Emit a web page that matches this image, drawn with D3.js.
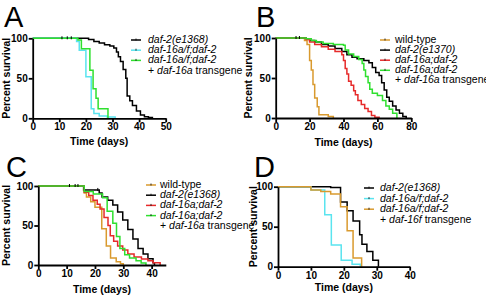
<!DOCTYPE html>
<html>
<head>
<meta charset="utf-8">
<style>
  body { margin: 0; background: #fff; }
  svg { font-family: "Liberation Sans", Arial, sans-serif; }
  .axis path, .axis line { stroke: #000; stroke-width: 1.8px; fill: none; }
  .axis text { font-size: 10px; font-weight: bold; fill: #000; }
  .atitle { font-size: 10.5px; font-weight: bold; }
  .legend text { font-size: 10.5px; }
  .km { fill: none; stroke-width: 1.5px; }
  .letter { font-size: 29px; }
</style>
<script src="https://d3js.org/d3.v7.min.js"></script>
</head>
<body>
<div id="chart"></div>
<script>
// survival curves: [day, percent survival after that day]
var aDaf2 = [[0,100],[21,98.5],[23,96],[25,94],[27,92],[29,90.5],[30.5,88],[31.5,83],[32.2,77],[33,71],[34,61],[35,50],[35.5,28],[36.5,22],[37.5,16],[39,9],[40.5,4],[42,2],[43.5,1],[45,0]];
var aDaf16af = [[0,100],[16.5,96],[17.5,85],[20,52],[22,12],[23,6],[25,3],[28,1.5],[31,0]];
var aRescue = [[0,100],[17,98],[18.3,87],[21.5,60],[22.7,37],[23.8,25],[24.6,12],[28.3,0]];

var bWild = [[0,100],[17,97],[18.5,92],[20,72],[21,60],[22,42],[23,25],[24.5,14],[25.5,4],[31,2],[34,0]];
var bDaf2 = [[0,100],[18,99],[20,97],[23,95],[27,92],[31,90],[35,87],[39,83],[42,79],[45,76],[48,74],[52,72],[55,69],[57,63],[59,57],[61,53],[62.5,44],[64,35],[65.5,26],[67,21],[69,15],[71,10],[73,6],[75,2],[77,0]];
var bDaf16a = [[0,100],[18,98],[20,95],[23,92],[27,89],[31,86],[35,83],[39,79],[40,72],[41,62],[42,55],[43,46],[44.5,41],[46,34],[47,29],[48.5,22],[50.5,17],[52.5,12],[54.5,8],[56.5,3],[58.5,1],[61,0]];
var bRescue = [[0,100],[18,99],[21,97],[24,95],[28,93],[34,92],[40,91],[41,85],[43,80],[46,77],[49,73],[51,68],[52,60],[53,52],[54.5,44],[55.5,36],[57,31],[60,28],[63,22],[65,15],[67,11],[69,6],[71.5,0]];

var cWild = [[0,100],[16.2,91],[17,86],[18.5,80],[20,73],[22.4,46],[24,24],[25.5,9],[27.5,4],[29,1.5],[30,0]];
var cDaf2 = [[0,100],[16,95],[21.5,91],[22.5,86],[24.5,82],[26.3,76],[28,67],[29.8,57],[31.6,45],[33.4,33],[35.2,21],[37,14],[38.7,8],[40.5,3],[41,0]];
var cDaf16a = [[0,100],[16.2,92],[17.8,88],[19.3,82],[20.8,77],[21.8,71],[23.2,60],[24.6,50],[25.4,37],[26.6,30],[28,24],[29.8,19],[31.6,14],[33.8,10],[36.4,7.5],[38.7,5.5],[40.5,3],[43,0]];
var cRescue = [[0,100],[16.2,93],[19.4,90],[22.7,85],[24.3,68],[26.3,53],[27.6,36],[28.8,21],[30.5,13],[32.2,9],[34.5,5.5],[36.3,2.5],[38,0]];

var dDaf2 = [[0,100],[16,99],[19,81],[21,70],[22.8,57],[24.8,40],[25.5,28],[27,19],[28.8,8],[30.5,0]];
var dDaf16af = [[0,100],[10,96],[14.2,65],[16.2,27],[19.2,8],[22.5,3],[25,0]];
var dRescue = [[0,100],[10,96],[13,94],[16,91],[19,75],[21,45],[22.8,11],[25.4,0]];

// censored marks [day, percent]
var aCensor = [[11,100],[13,100],[14.5,100]];
var bCensor = [[12,100],[14,100]];
var cCensor = [[11,100],[13,100],[14,100],[21,95]];

var xTicksA = [0,10,20,30,40,50];
var xTicksB = [0,20,40,60,80];
var xTicksC = [0,10,20,30,40];
var xTicksD = [0,10,20,30,40];
var yTicks = [0,50,100];

var BLACK = "#000", CYAN = "#5ae4ef", GREEN = "#2fe02f", RED = "#e62a2a", ORANGE = "#d99a2e";

var panels = [
  { letter: "A", lx: 4, ly: 27, x0: 32.7, x1: 165.7, xmax: 50, xt: xTicksA, y0: 118.3, y1: 38.3,
    ylab: 7, xlab: 142,
    series: [[aDaf2, BLACK], [aDaf16af, CYAN], [aRescue, GREEN]], censor: aCensor,
    leg: { x: 131, tx: 148, y: 40, dy: 10.2,
      items: [[BLACK, [["daf-2(e1368)", 1]]], [CYAN, [["daf-16a/f;daf-2", 1]]], [GREEN, [["daf-16a/f;daf-2", 1]]],
              [null, [["+ ", 0], ["daf-16a", 1], [" transgene", 0]]]] } },
  { letter: "B", lx: 256, ly: 27, x0: 275.7, x1: 411.3, xmax: 80, xt: xTicksB, y0: 118, y1: 38,
    ylab: 249, xlab: 143,
    series: [[bWild, ORANGE], [bDaf2, BLACK], [bDaf16a, RED], [bRescue, GREEN]], censor: bCensor,
    leg: { x: 380, tx: 395, y: 40, dy: 10.1,
      items: [[ORANGE, [["wild-type", 0]]], [BLACK, [["daf-2(e1370)", 1]]], [RED, [["daf-16a;daf-2", 1]]],
              [GREEN, [["daf-16a;daf-2", 1]]], [null, [["+ ", 0], ["daf-16a", 1], [" transgene", 0]]]] } },
  { letter: "C", lx: 6, ly: 177, x0: 38.3, x1: 165.8, xmax: 45, xt: xTicksC, y0: 265, y1: 186,
    ylab: 7, xlab: 290,
    series: [[cWild, ORANGE], [cDaf2, BLACK], [cDaf16a, RED], [cRescue, GREEN]], censor: cCensor,
    leg: { x: 146, tx: 160, y: 185, dy: 10.2,
      items: [[ORANGE, [["wild-type", 0]]], [BLACK, [["daf-2(e1368)", 1]]], [RED, [["daf-16a;daf-2", 1]]],
              [GREEN, [["daf-16a;daf-2", 1]]], [null, [["+ ", 0], ["daf-16a", 1], [" transgene", 0]]]] } },
  { letter: "D", lx: 254, ly: 177, x0: 278, x1: 409.7, xmax: 40, xt: xTicksD, y0: 266.7, y1: 186.7,
    ylab: 254, xlab: 288,
    series: [[dDaf2, BLACK], [dDaf16af, CYAN], [dRescue, ORANGE]], censor: [],
    leg: { x: 364, tx: 380, y: 188, dy: 10.6,
      items: [[BLACK, [["daf-2(e1368)", 1]]], [CYAN, [["daf-16a/f;daf-2", 1]]], [ORANGE, [["daf-16a/f;daf-2", 1]]],
              [null, [["+ ", 0], ["daf-16f", 1], [" transgene", 0]]]] } }
];

var svg = d3.select("#chart").append("svg").attr("width", 486).attr("height", 303);

panels.forEach(function (p) {
  var x = d3.scaleLinear().domain([0, p.xmax]).range([p.x0, p.x1]);
  var y = d3.scaleLinear().domain([0, 100]).range([p.y0, p.y1]);
  var g = svg.append("g");

  g.append("text").attr("class", "letter").attr("x", p.lx).attr("y", p.ly).text(p.letter);

  var line = d3.line().curve(d3.curveStepAfter)
    .x(function (d) { return x(d[0]); })
    .y(function (d) { return y(d[1]); });

  p.series.forEach(function (s) {
    g.append("path").attr("class", "km").attr("d", line(s[0])).attr("stroke", s[1]);
  });

  g.selectAll(".cens").data(p.censor).enter().append("line")
    .attr("x1", function (d) { return x(d[0]); }).attr("x2", function (d) { return x(d[0]); })
    .attr("y1", function (d) { return y(d[1]) - 2; }).attr("y2", function (d) { return y(d[1]) + 1; })
    .attr("stroke", "#000").attr("stroke-width", 1);

  g.append("g").attr("class", "axis")
    .attr("transform", "translate(0," + p.y0 + ")")
    .call(d3.axisBottom(x).tickValues(p.xt).tickSize(4).tickSizeOuter(0).tickPadding(1));

  g.append("g").attr("class", "axis")
    .attr("transform", "translate(" + p.x0 + ",0)")
    .call(d3.axisLeft(y).tickValues(yTicks).tickSize(4).tickSizeOuter(0).tickPadding(1));

  g.append("text").attr("class", "atitle")
    .attr("x", (p.x0 + p.x1) / 2).attr("y", p.xlab).attr("text-anchor", "middle")
    .attr("dominant-baseline", "middle").text("Time (days)");

  g.append("text").attr("class", "atitle")
    .attr("transform", "translate(" + p.ylab + "," + (p.y0 + p.y1) / 2 + ") rotate(-90)")
    .attr("text-anchor", "middle").attr("dominant-baseline", "middle").text("Percent survival");

  var lg = g.append("g").attr("class", "legend");
  p.leg.items.forEach(function (it, i) {
    var yy = p.leg.y + i * p.leg.dy;
    if (it[0]) {
      lg.append("line").attr("x1", p.leg.x).attr("x2", p.leg.x + 10).attr("y1", yy).attr("y2", yy)
        .attr("stroke", it[0]).attr("stroke-width", 1.5);
      lg.append("line").attr("x1", p.leg.x + 5).attr("x2", p.leg.x + 5).attr("y1", yy - 1.5).attr("y2", yy + 0.5)
        .attr("stroke", "#000").attr("stroke-width", 0.8);
    }
    var t = lg.append("text").attr("x", p.leg.tx).attr("y", yy).attr("dominant-baseline", "middle");
    it[1].forEach(function (part) {
      t.append("tspan").attr("font-style", part[1] ? "italic" : "normal").text(part[0]);
    });
  });
});
</script>
</body>
</html>
